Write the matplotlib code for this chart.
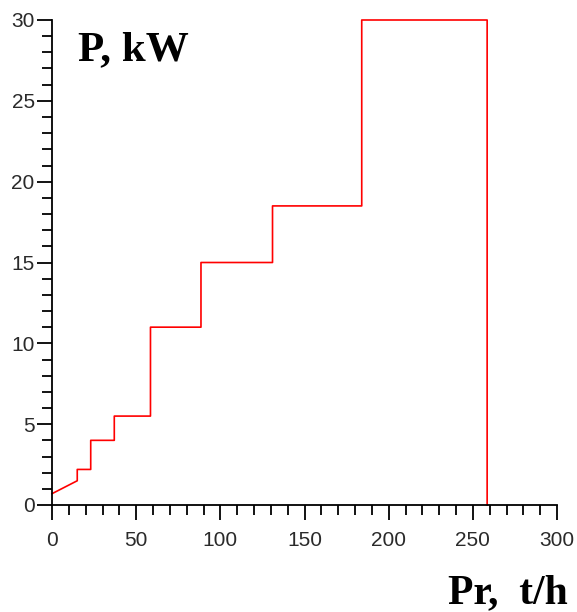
import matplotlib.pyplot as plt

# step curve (Pr in t/h, P in kW)
pr = [0, 15, 15, 23, 23, 37, 37, 58.5, 58.5, 88.5, 88.5, 131, 131, 184, 184, 258.5, 258.5]
power = [0.7, 1.5, 2.2, 2.2, 4.0, 4.0, 5.5, 5.5, 11, 11, 15, 15, 18.5, 18.5, 30, 30, 0]

x_major = [0, 50, 100, 150, 200, 250, 300]
x_minor = list(range(0, 301, 10))
y_major = [0, 5, 10, 15, 20, 25, 30]
y_minor = list(range(0, 31, 1))

fig = plt.figure(figsize=(5.77, 6.12), dpi=100)
ax = fig.add_axes([52 / 577, 1 - 505 / 612, 505 / 577, 485 / 612])

ax.plot(pr, power, color='#ff0000', linewidth=1.2, clip_on=False)

ax.set_xlim(0, 300)
ax.set_ylim(0, 30)
ax.spines['top'].set_visible(False)
ax.spines['right'].set_visible(False)
for s in ['left', 'bottom']:
    ax.spines[s].set_linewidth(1.3)

ax.set_xticks(x_major)
ax.set_xticks(x_minor, minor=True)
ax.set_yticks(y_major)
ax.set_yticks(y_minor, minor=True)
ax.tick_params(which='major', length=10.5, width=1.3, direction='out', color='black',
               labelsize=15, labelcolor='#2a2a2a')
ax.tick_params(axis='x', which='major', pad=8)
ax.tick_params(axis='y', which='major', pad=2)
ax.tick_params(which='minor', length=7, width=1.3, direction='out', color='black')
for lbl in ax.get_xticklabels() + ax.get_yticklabels():
    lbl.set_fontfamily('Liberation Sans')

fig.text(78 / 577, 1 - 60 / 612, 'P, kW', fontfamily='Liberation Serif', fontweight='bold',
         fontsize=31, ha='left', va='baseline')
fig.text(568 / 577, 1 - 603 / 612, 'Pr,  t/h', fontfamily='Liberation Serif', fontweight='bold',
         fontsize=30, ha='right', va='baseline')

fig.savefig('out.png', dpi=100)
